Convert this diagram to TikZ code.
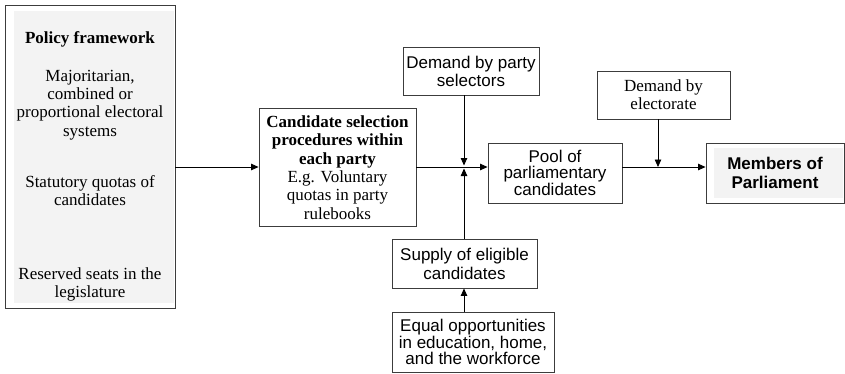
\documentclass[tikz,border=0pt]{standalone}
\usepackage{fontspec}
\setmainfont{Liberation Serif}
\setsansfont{Liberation Sans}
\usepackage{tikz}
\usetikzlibrary{arrows.meta,positioning,calc}
\definecolor{panelgray}{RGB}{243,243,243}
\definecolor{framegray}{RGB}{60,60,60}

\begin{document}
\begin{tikzpicture}[x=1pt, y=-1pt,
    box/.style={rectangle, draw=framegray, line width=0.9pt, inner sep=0pt,
                align=center, minimum width=#1},
    serif/.style={font=\fontsize{17}{18.3}\selectfont\rmfamily},
    sans/.style={font=\fontsize{17}{#1}\selectfont\sffamily},
    shaded/.style={path picture={\fill[panelgray]
        ([shift={(#1)}]path picture bounding box.north west) rectangle
        ([shift={(-1pt,5pt)}]path picture bounding box.south east);}},
    flow/.style={-{Triangle[length=7.5pt,width=6.5pt]}, line width=0.8pt}]

\useasboundingbox (0,0) rectangle (845,373);

% left panel
\node[box=170pt, minimum height=303pt, shaded={9pt,-6pt}] (policy) at (90,156.5) {};
\node[serif, align=center, below=23pt of policy.north] (policytext) {%
    \textbf{Policy framework}\\[20pt]
    Majoritarian,\\ combined or\\ proportional electoral\\ systems\\[33pt]
    Statutory quotas of\\ candidates\\[55pt]
    Reserved seats in the\\ legislature};

% main row
\node[box=157pt, minimum height=118pt, serif] (cand) at (337.5,167.5) {%
    \textbf{Candidate selection}\\ \textbf{procedures within}\\ \textbf{each party}\\
    E.g. Voluntary\\ quotas in party\\ rulebooks};
\node[box=134pt, minimum height=60pt, sans=15.5] (pool) at (555,173)
    {Pool of\\ parliamentary\\ candidates};
\node[box=138pt, minimum height=60pt, sans=18.3, shaded={8pt,-5pt}] (mp) at (775,173)
    {\textbf{Members of}\\ \textbf{Parliament}};

% demand and supply
\node[box=136pt, minimum height=48pt, sans=18] (selectors) at (471,71)
    {Demand by party\\ selectors};
\node[box=133pt, minimum height=48pt, serif] (electorate) at (663.5,95)
    {Demand by\\ electorate};
\node[box=145pt, minimum height=49pt, sans=19] (supply) at (464.5,263.5)
    {Supply of eligible\\ candidates};
\node[box=162pt, minimum height=60pt, sans=15.5] (equal) at (473,342)
    {Equal opportunities\\ in education, home,\\ and the workforce};

\coordinate (hub) at (464,167);
\coordinate (vote) at (658,167);

\draw[flow] (policy.east |- hub) -- (cand.west |- hub);
\draw[line width=0.8pt] (cand.east |- hub) -- (hub);
\draw[flow] (hub) -- (pool.west |- hub);
\draw[flow, shorten >=1.5pt] (hub |- selectors.south) -- (hub);
\draw[flow, shorten >=1.5pt] (hub |- supply.north) -- (hub);
\draw[flow] (hub |- equal.north) -- (hub |- supply.south);
\draw[flow] (pool.east |- vote) -- (mp.west |- vote);
\draw[flow] (vote |- electorate.south) -- (vote);
\end{tikzpicture}
\end{document}
